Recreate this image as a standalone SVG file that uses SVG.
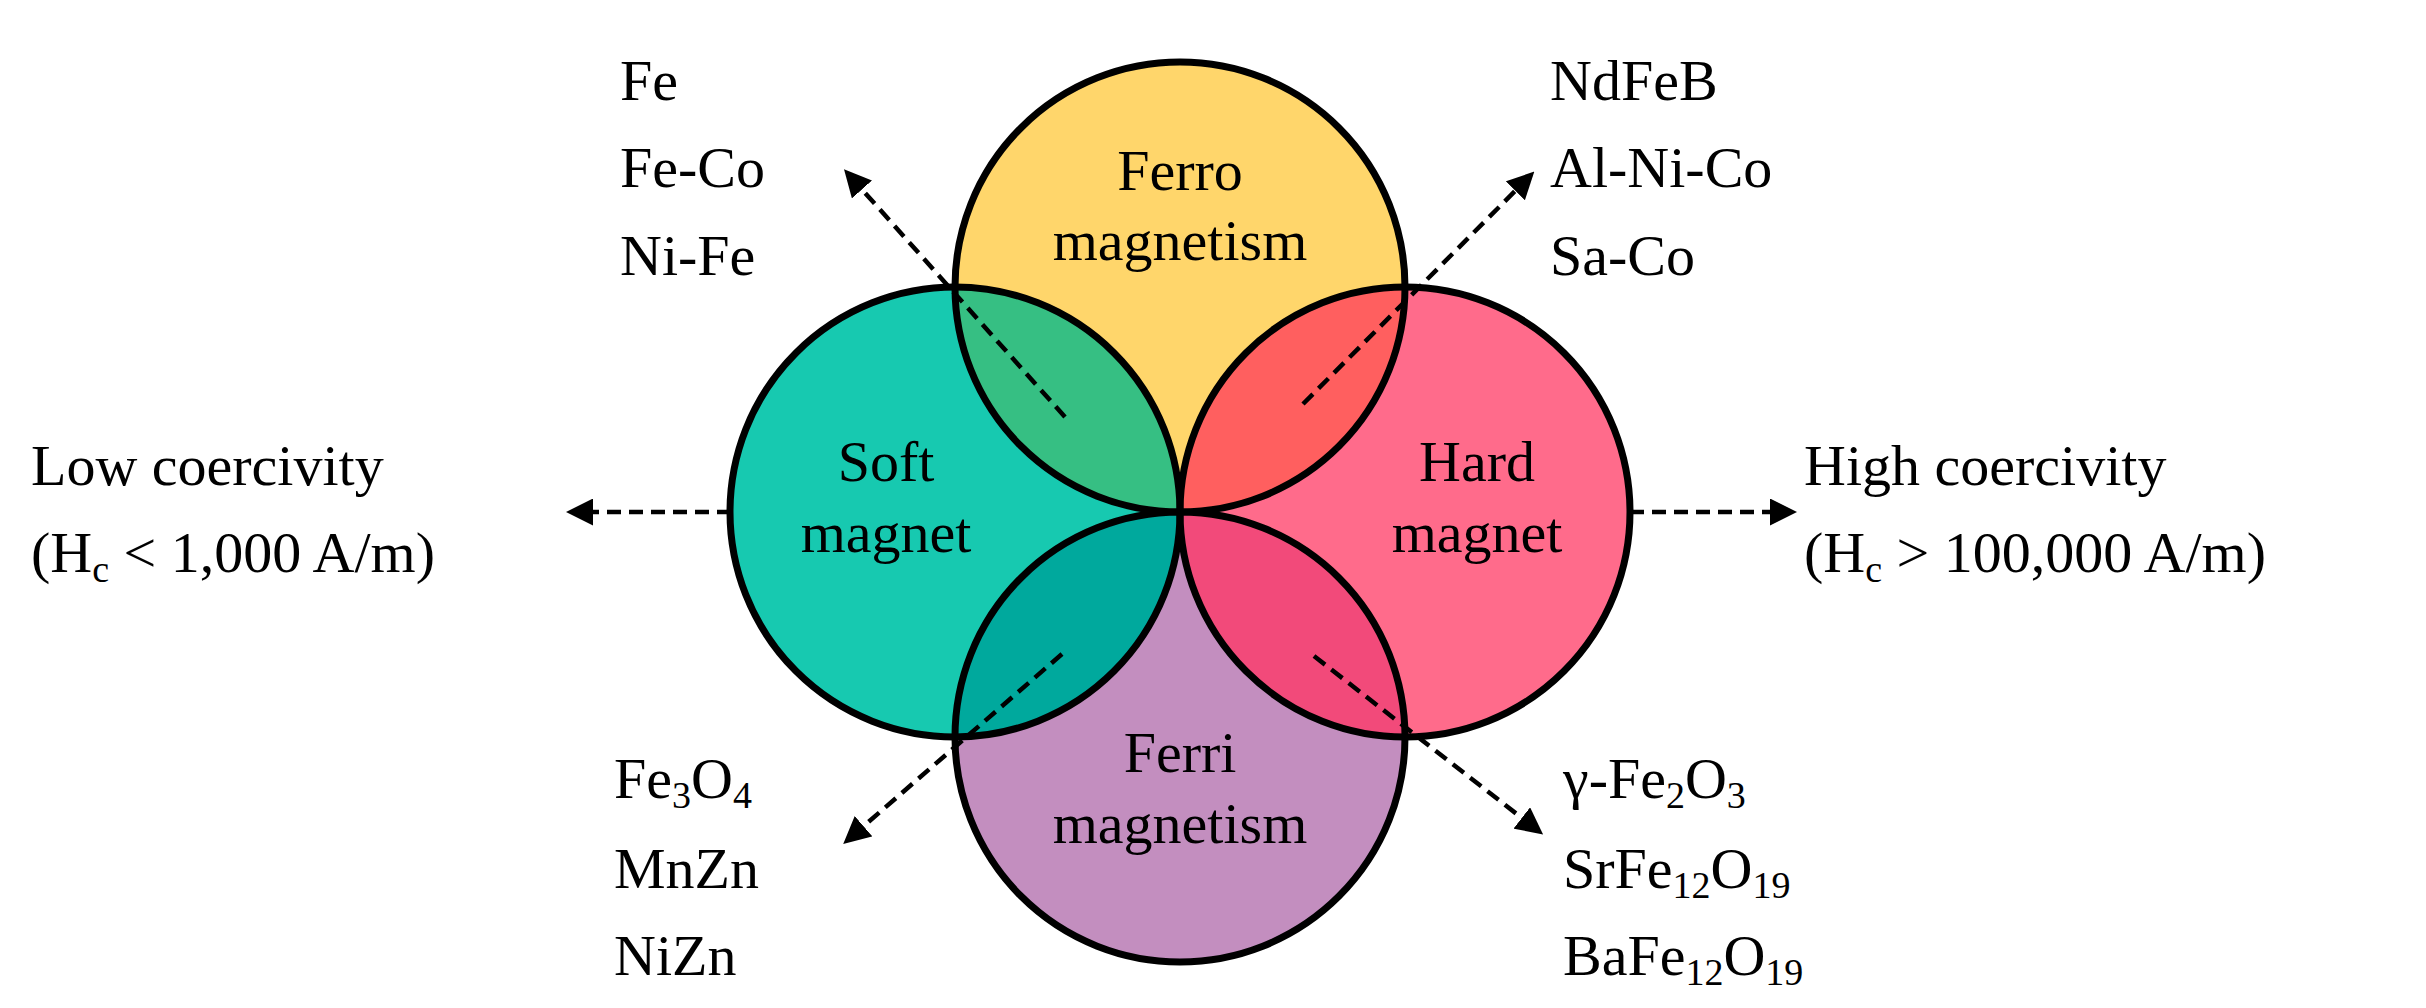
<svg xmlns="http://www.w3.org/2000/svg" width="2426" height="1008" viewBox="0 0 2426 1008">
<style>
text{font-family:"Liberation Serif","DejaVu Serif",serif;font-size:58px;fill:#000}
.c{text-anchor:middle}
.o{fill:none;stroke:#000;stroke-width:7}
.d{stroke:#000;stroke-width:4.5;stroke-dasharray:14 8;fill:none;marker-end:url(#ah)}
.d0{stroke:#000;stroke-width:4.5;stroke-dasharray:14 8;fill:none}
</style>
<defs>
<marker id="ah" markerWidth="6" markerHeight="6" refX="4" refY="3" orient="auto" markerUnits="strokeWidth"><path d="M0,0 L6,3 L0,6 Z" fill="#000"/></marker>
<clipPath id="cT"><circle cx="1180" cy="287" r="225"/></clipPath>
<clipPath id="cB"><circle cx="1180" cy="737" r="225"/></clipPath>
</defs>
<rect width="2426" height="1008" fill="#fff"/>
<g id="ferro"><circle cx="1180" cy="287" r="225" fill="#FFD66B"/></g>
<g id="ferri"><circle cx="1180" cy="737" r="225" fill="#C38EBF"/></g>
<g id="soft"><circle cx="955" cy="512" r="225" fill="#17C9B0"/>
<circle cx="955" cy="512" r="225" fill="#36BF83" clip-path="url(#cT)"/>
<circle cx="955" cy="512" r="225" fill="#00A99D" clip-path="url(#cB)"/></g>
<g id="hard"><circle cx="1405" cy="512" r="225" fill="#FF6B8B"/>
<circle cx="1405" cy="512" r="225" fill="#FF5F5F" clip-path="url(#cT)"/>
<circle cx="1405" cy="512" r="225" fill="#F24A7A" clip-path="url(#cB)"/></g>
<g id="outlines">
<circle class="o" cx="1180" cy="287" r="225"/><circle class="o" cx="1180" cy="737" r="225"/>
<circle class="o" cx="955" cy="512" r="225"/><circle class="o" cx="1405" cy="512" r="225"/></g>
<g id="connectors">
<path class="d" d="M731,512 L575,512"/>
<path class="d" d="M1630,512 L1788,512"/>
<path class="d" d="M1065,417 L850,176"/>
<path class="d" d="M1303,404 L1528,178"/>
<path class="d" d="M1062,654 L850,838"/>
<path class="d" d="M1314,656 L1536,829"/>
</g>
<g id="labels">
<text class="c" x="1180" y="190">Ferro</text><text class="c" x="1180" y="260">magnetism</text>
<text class="c" x="886" y="481">Soft</text><text class="c" x="886" y="552">magnet</text>
<text class="c" x="1477" y="481">Hard</text><text class="c" x="1477" y="552">magnet</text>
<text class="c" x="1180" y="772">Ferri</text><text class="c" x="1180" y="843">magnetism</text>
<text x="31" y="485">Low coercivity</text>
<text x="31" y="572">(H<tspan font-size="38" dy="10">c</tspan><tspan dy="-10"> &lt; 1,000 A/m)</tspan></text>
<text x="1804" y="485">High coercivity</text>
<text x="1804" y="572">(H<tspan font-size="38" dy="10">c</tspan><tspan dy="-10"> &gt; 100,000 A/m)</tspan></text>
<text x="620" y="100">Fe</text><text x="620" y="187">Fe-Co</text><text x="620" y="275">Ni-Fe</text>
<text x="1550" y="100">NdFeB</text><text x="1550" y="187">Al-Ni-Co</text><text x="1550" y="275">Sa-Co</text>
<text x="614" y="798">Fe<tspan font-size="38" dy="10">3</tspan><tspan dy="-10">O</tspan><tspan font-size="38" dy="10">4</tspan></text>
<text x="614" y="888">MnZn</text><text x="614" y="975">NiZn</text>
<text x="1563" y="798">γ-Fe<tspan font-size="38" dy="10">2</tspan><tspan dy="-10">O</tspan><tspan font-size="38" dy="10">3</tspan></text>
<text x="1563" y="888">SrFe<tspan font-size="38" dy="10">12</tspan><tspan dy="-10">O</tspan><tspan font-size="38" dy="10">19</tspan></text>
<text x="1563" y="975">BaFe<tspan font-size="38" dy="10">12</tspan><tspan dy="-10">O</tspan><tspan font-size="38" dy="10">19</tspan></text>
</g>
</svg>
